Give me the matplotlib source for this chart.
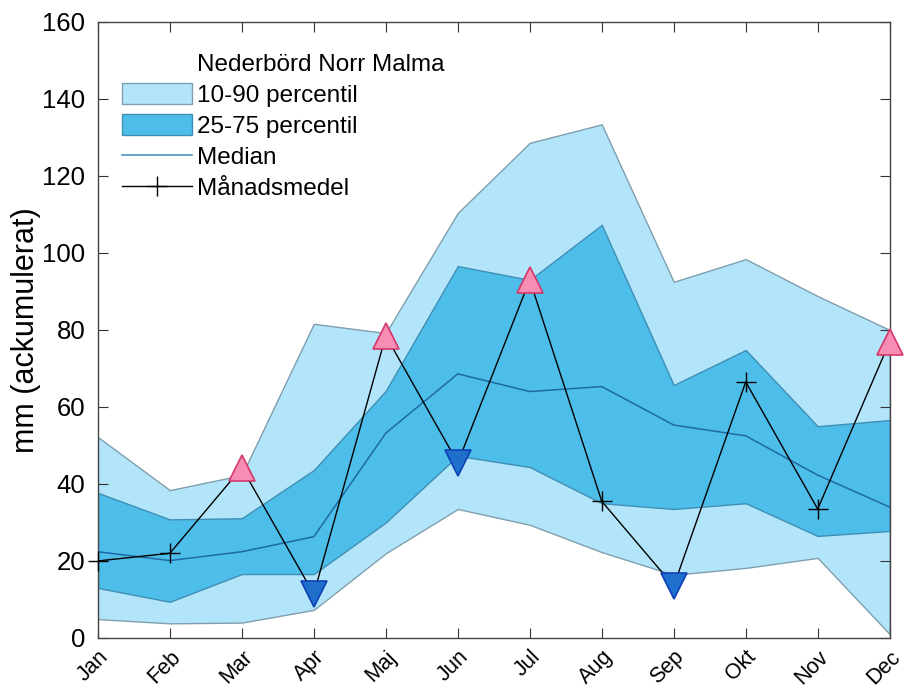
import matplotlib
matplotlib.use("Agg")
import matplotlib.pyplot as plt
from matplotlib.patches import Patch
from matplotlib.lines import Line2D
import matplotlib.transforms as mtransforms
import numpy as np

months = ["Jan", "Feb", "Mar", "Apr", "Maj", "Jun", "Jul", "Aug", "Sep", "Okt", "Nov", "Dec"]
p10 = [4.9, 3.8, 4.0, 7.3, 22.0, 33.5, 29.4, 22.3, 16.4, 18.2, 20.8, 1.0]
p25 = [13.0, 9.4, 16.6, 16.6, 30.0, 47.3, 44.4, 35.0, 33.5, 35.0, 26.5, 27.8]
p75 = [37.7, 30.8, 31.1, 43.6, 64.2, 96.6, 93.0, 107.3, 65.7, 74.8, 55.0, 56.6]
p90 = [52.2, 38.4, 42.3, 81.6, 79.2, 110.4, 128.6, 133.4, 92.5, 98.4, 88.8, 80.0]
median = [22.4, 20.1, 22.4, 26.3, 53.2, 68.6, 64.0, 65.3, 55.3, 52.5, 42.3, 34.0]
mean = [20.0, 22.0, 44.2, 11.4, 78.5, 45.5, 93.0, 35.5, 13.5, 66.5, 33.5, 77.0]
# marker class: 1 = high (pink up), -1 = low (blue down), 0 = normal
mclass = [0, 0, 1, -1, 1, -1, 1, 0, -1, 0, 0, 1]

plt.rcParams['font.family'] = ['Liberation Sans', 'DejaVu Sans']

fig = plt.figure(figsize=(9.06, 6.90), dpi=100)
ax = fig.add_axes([0.108, 0.0754, 0.874, 0.8928])

x = np.arange(len(months))
light = '#b3e5fa'
dark = '#4dbde9'
edge = '#7f9fae'

ax.fill_between(x, p10, p90, facecolor=light, edgecolor=edge, linewidth=1.0, zorder=1)
ax.fill_between(x, p25, p75, facecolor=dark, edgecolor='#3f8fb5', linewidth=1.0, zorder=2)
ax.plot(x, median, color='#1e6aa6', linewidth=1.1, zorder=3)
ax.plot(x, mean, color='black', linewidth=1.0, zorder=4)

for xi, v, c in zip(x, mean, mclass):
    if c == 1:
        ax.plot(xi, v, marker='^', markersize=19, markerfacecolor='#f78db4',
                markeredgecolor='#d4386a', markeredgewidth=1.2, zorder=5, clip_on=False)
    elif c == -1:
        ax.plot(xi, v, marker='v', markersize=19, markerfacecolor='#1f6fcc',
                markeredgecolor='#1040b8', markeredgewidth=1.2, zorder=5, clip_on=False)
    else:
        ax.plot(xi, v, marker='+', markersize=15, color='black',
                markeredgewidth=1.0, zorder=5, clip_on=False)

ax.set_xlim(0, 11)
ax.set_ylim(0, 160)
ax.set_yticks(np.arange(0, 161, 20))
ax.set_xticks(x)
ax.set_xticklabels(months, rotation=45, ha='right', va='top', rotation_mode='anchor', fontsize=15.5)
offset = mtransforms.ScaledTranslation(13 / 100, 0, fig.dpi_scale_trans)
for lab in ax.get_xticklabels():
    lab.set_transform(lab.get_transform() + offset)
ax.tick_params(axis='y', labelsize=18.5, pad=9)
ax.tick_params(direction='in', length=7, width=0.8, color='#333333',
               top=True, right=True)
ax.tick_params(axis='x', pad=6)
ax.set_ylabel('mm (ackumulerat)', fontsize=22, labelpad=1)
for s in ax.spines.values():
    s.set_color('#444444')
    s.set_linewidth(1.0)

handles = [
    Patch(facecolor='none', edgecolor='none'),
    Patch(facecolor=light, edgecolor=edge),
    Patch(facecolor=dark, edgecolor='#3f8fb5'),
    Line2D([], [], color='#4a94c4', linewidth=1.2),
    Line2D([], [], color='black', linewidth=1.0, marker='+', markersize=15, markeredgewidth=1.0),
]
labels = ['Nederbörd Norr Malma', '10-90 percentil', '25-75 percentil', 'Median', 'Månadsmedel']
leg = ax.legend(handles, labels, loc='upper left', bbox_to_anchor=(0.03, 0.951),
                frameon=False, fontsize=17.5, handlelength=2.9, handleheight=0.95,
                handletextpad=0.2, labelspacing=0.3, borderpad=0, borderaxespad=0)

fig.savefig('out.png', dpi=100)
